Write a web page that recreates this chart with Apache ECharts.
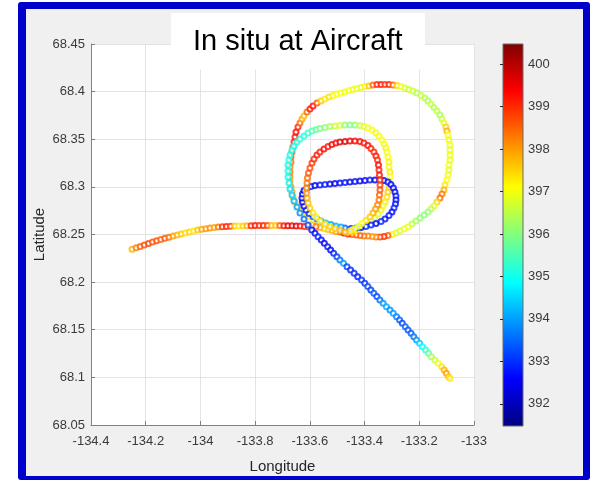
<!DOCTYPE html>
<html>
<head>
<meta charset="utf-8">
<script src="https://cdn.jsdelivr.net/npm/echarts@6/dist/echarts.min.js"></script>
<style>
  html, body { margin: 0; padding: 0; background: #ffffff; }
  #chart { width: 591px; height: 482px; }
</style>
</head>
<body>
<div id="chart"></div>
<script>
// Flight track samples: [longitude, latitude, CO2 (ppm)]

// Inbound leg from the west
const westLeg = [
  [-134.250, 68.2345, 397.8], [-134.235, 68.2360, 398.2], [-134.220, 68.2375, 398.5],
  [-134.205, 68.2390, 398.7], [-134.190, 68.2405, 398.8], [-134.175, 68.2420, 398.6],
  [-134.160, 68.2435, 398.7], [-134.145, 68.2447, 398.5], [-134.130, 68.2460, 398.6],
  [-134.115, 68.2472, 398.4], [-134.100, 68.2484, 398.0], [-134.085, 68.2495, 397.8],
  [-134.070, 68.2506, 397.6], [-134.055, 68.2517, 397.4], [-134.040, 68.2527, 397.5],
  [-134.025, 68.2537, 397.3], [-134.010, 68.2546, 397.6], [-133.995, 68.2554, 397.9],
  [-133.980, 68.2561, 398.0], [-133.965, 68.2567, 398.1], [-133.950, 68.2573, 397.9],
  [-133.935, 68.2578, 398.3], [-133.920, 68.2582, 398.9], [-133.905, 68.2585, 399.1],
  [-133.890, 68.2587, 398.9], [-133.875, 68.2588, 397.6], [-133.860, 68.2589, 397.3],
  [-133.845, 68.2590, 397.5], [-133.830, 68.2591, 397.8], [-133.815, 68.2592, 399.0],
  [-133.800, 68.2594, 399.2], [-133.785, 68.2594, 399.0], [-133.770, 68.2594, 399.1],
  [-133.755, 68.2594, 398.8], [-133.740, 68.2594, 397.7], [-133.725, 68.2594, 397.6],
  [-133.710, 68.2594, 398.5], [-133.695, 68.2593, 399.2], [-133.680, 68.2592, 399.6],
  [-133.665, 68.2591, 399.4], [-133.650, 68.2590, 399.7], [-133.635, 68.2588, 399.3],
  [-133.620, 68.2585, 399.1], [-133.605, 68.2580, 398.8]
];

// Wide outer circle
const outerLoop = [
  [-133.5886, 68.2600, 397.6], [-133.6032, 68.2642, 397.3], [-133.6178, 68.2684, 397.1],
  [-133.6324, 68.2736, 397.2], [-133.6434, 68.2789, 397.4], [-133.6544, 68.2841, 397.6],
  [-133.6617, 68.2893, 397.8], [-133.6653, 68.2946, 398.0], [-133.6690, 68.2998, 398.1],
  [-133.6727, 68.3051, 398.0], [-133.6727, 68.3103, 398.2], [-133.6727, 68.3156, 398.3],
  [-133.6727, 68.3208, 398.2], [-133.6690, 68.3261, 398.4], [-133.6690, 68.3313, 398.6],
  [-133.6653, 68.3366, 398.7], [-133.6617, 68.3419, 398.9], [-133.6580, 68.3471, 399.1],
  [-133.6544, 68.3524, 399.2], [-133.6507, 68.3576, 399.3], [-133.6434, 68.3629, 399.1],
  [-133.6361, 68.3671, 398.5], [-133.6288, 68.3712, 397.9], [-133.6215, 68.3744, 397.7],
  [-133.6105, 68.3786, 398.4], [-133.5996, 68.3817, 399.2], [-133.5886, 68.3849, 399.3],
  [-133.5740, 68.3880, 398.6], [-133.5593, 68.3901, 397.6], [-133.5447, 68.3922, 397.3],
  [-133.5301, 68.3943, 397.4], [-133.5155, 68.3959, 397.2], [-133.5009, 68.3975, 397.0],
  [-133.4862, 68.3985, 397.1], [-133.4716, 68.3996, 396.9], [-133.4570, 68.4012, 397.0],
  [-133.4424, 68.4022, 396.9], [-133.4278, 68.4033, 397.0], [-133.4131, 68.4043, 396.8],
  [-133.3985, 68.4054, 397.2], [-133.3839, 68.4059, 397.6], [-133.3693, 68.4069, 398.4],
  [-133.3547, 68.4075, 399.0], [-133.3400, 68.4075, 399.2], [-133.3254, 68.4075, 398.9],
  [-133.3108, 68.4075, 399.1], [-133.2962, 68.4069, 398.5], [-133.2816, 68.4064, 397.5],
  [-133.2670, 68.4054, 397.0], [-133.2523, 68.4038, 396.8], [-133.2377, 68.4022, 396.6],
  [-133.2231, 68.4006, 396.7], [-133.2085, 68.3985, 396.4], [-133.1938, 68.3959, 396.6],
  [-133.1792, 68.3933, 396.5], [-133.1683, 68.3901, 396.3], [-133.1573, 68.3870, 396.6],
  [-133.1463, 68.3833, 396.4], [-133.1354, 68.3796, 396.5], [-133.1244, 68.3755, 396.3],
  [-133.1171, 68.3712, 396.6], [-133.1098, 68.3670, 396.8], [-133.1025, 68.3629, 397.5],
  [-133.0988, 68.3586, 397.8], [-133.0952, 68.3545, 397.1], [-133.0915, 68.3492, 396.9],
  [-133.0879, 68.3440, 397.0], [-133.0879, 68.3387, 396.8], [-133.0879, 68.3335, 397.0],
  [-133.0879, 68.3282, 396.9], [-133.0915, 68.3230, 397.0], [-133.0915, 68.3177, 396.8],
  [-133.0952, 68.3125, 397.0], [-133.0988, 68.3072, 397.1], [-133.1061, 68.3020, 397.3],
  [-133.1098, 68.2967, 397.8], [-133.1171, 68.2925, 398.3], [-133.1244, 68.2883, 398.4],
  [-133.1354, 68.2841, 397.5], [-133.1463, 68.2799, 396.8], [-133.1573, 68.2767, 396.5],
  [-133.1683, 68.2736, 396.2], [-133.1829, 68.2705, 396.0], [-133.1975, 68.2673, 396.1],
  [-133.2121, 68.2642, 396.3], [-133.2267, 68.2610, 396.5], [-133.2414, 68.2579, 396.9],
  [-133.2560, 68.2558, 397.0], [-133.2706, 68.2537, 396.8], [-133.2852, 68.2516, 396.7],
  [-133.2998, 68.2500, 397.2], [-133.3145, 68.2489, 398.5], [-133.3291, 68.2479, 399.0],
  [-133.3437, 68.2474, 398.8], [-133.3583, 68.2474, 398.3], [-133.3729, 68.2479, 398.0],
  [-133.3876, 68.2484, 398.2], [-133.4022, 68.2484, 398.3], [-133.4168, 68.2489, 398.5],
  [-133.4314, 68.2495, 398.6], [-133.4460, 68.2500, 398.4], [-133.4607, 68.2505, 399.3],
  [-133.4753, 68.2516, 399.7], [-133.4899, 68.2526, 398.7], [-133.5045, 68.2531, 398.0],
  [-133.5191, 68.2542, 397.8], [-133.5338, 68.2552, 397.7], [-133.5484, 68.2563, 397.5],
  [-133.5630, 68.2573, 397.8], [-133.5776, 68.2584, 398.3]
];

// Middle loop (cyan on the west side, yellow on the east side)
const middleLoop = [
  [-133.6069, 68.2600, 393.2], [-133.6215, 68.2663, 393.5], [-133.6361, 68.2726, 393.8],
  [-133.6471, 68.2789, 394.0], [-133.6580, 68.2851, 394.2], [-133.6653, 68.2915, 394.4],
  [-133.6727, 68.2977, 394.6], [-133.6763, 68.3041, 394.8], [-133.6800, 68.3103, 394.9],
  [-133.6800, 68.3166, 395.0], [-133.6800, 68.3230, 394.9], [-133.6763, 68.3282, 395.0],
  [-133.6727, 68.3335, 395.1], [-133.6653, 68.3387, 395.0], [-133.6580, 68.3429, 395.1],
  [-133.6471, 68.3471, 395.0], [-133.6361, 68.3502, 395.2], [-133.6215, 68.3534, 395.1],
  [-133.6069, 68.3565, 395.3], [-133.5922, 68.3586, 395.5], [-133.5776, 68.3602, 395.7],
  [-133.5630, 68.3613, 395.9], [-133.5447, 68.3623, 396.1], [-133.5265, 68.3634, 396.3],
  [-133.5082, 68.3639, 396.6], [-133.4899, 68.3644, 396.8], [-133.4716, 68.3650, 396.2],
  [-133.4534, 68.3650, 395.9], [-133.4351, 68.3650, 396.1], [-133.4168, 68.3644, 396.6],
  [-133.4022, 68.3634, 396.9], [-133.3876, 68.3618, 397.0], [-133.3729, 68.3597, 397.1],
  [-133.3583, 68.3566, 396.9], [-133.3474, 68.3534, 397.0], [-133.3364, 68.3492, 397.1],
  [-133.3291, 68.3450, 397.0], [-133.3218, 68.3408, 397.2], [-133.3181, 68.3366, 397.0],
  [-133.3145, 68.3313, 397.1], [-133.3108, 68.3261, 397.2], [-133.3108, 68.3208, 397.0],
  [-133.3072, 68.3156, 397.3], [-133.3072, 68.3103, 397.1], [-133.3108, 68.3051, 397.3],
  [-133.3108, 68.2998, 397.5], [-133.3145, 68.2946, 397.6], [-133.3181, 68.2893, 397.4],
  [-133.3254, 68.2841, 397.3], [-133.3327, 68.2799, 397.0], [-133.3400, 68.2757, 397.2],
  [-133.3510, 68.2715, 396.9], [-133.3620, 68.2673, 396.7], [-133.3766, 68.2642, 396.8],
  [-133.3912, 68.2610, 396.6], [-133.4058, 68.2579, 397.0], [-133.4205, 68.2558, 397.2],
  [-133.4351, 68.2537, 397.4], [-133.4497, 68.2526, 397.6], [-133.4643, 68.2516, 398.0]
];

// Low-level blue loop
const blueLoop = [
  [-133.4716, 68.2568, 393.5], [-133.4862, 68.2579, 394.0], [-133.5045, 68.2589, 394.2],
  [-133.5228, 68.2605, 394.0], [-133.5411, 68.2621, 394.3], [-133.5593, 68.2642, 393.9],
  [-133.5740, 68.2663, 393.6], [-133.5886, 68.2689, 393.3], [-133.6032, 68.2720, 393.0],
  [-133.6142, 68.2757, 392.7], [-133.6215, 68.2799, 392.6], [-133.6270, 68.2841, 392.5],
  [-133.6288, 68.2883, 392.6], [-133.6270, 68.2925, 392.7], [-133.6215, 68.2962, 392.5],
  [-133.6105, 68.2988, 392.6], [-133.5959, 68.3004, 392.8], [-133.5813, 68.3014, 392.4],
  [-133.5630, 68.3020, 392.7], [-133.5447, 68.3025, 392.9], [-133.5265, 68.3030, 392.5],
  [-133.5082, 68.3035, 392.3], [-133.4899, 68.3041, 392.6], [-133.4716, 68.3046, 392.8],
  [-133.4534, 68.3051, 392.5], [-133.4351, 68.3056, 392.7], [-133.4168, 68.3062, 392.4],
  [-133.3985, 68.3067, 392.6], [-133.3803, 68.3072, 392.8], [-133.3620, 68.3072, 392.5],
  [-133.3437, 68.3072, 392.7], [-133.3291, 68.3067, 392.6], [-133.3145, 68.3051, 392.8],
  [-133.3035, 68.3025, 392.5], [-133.2944, 68.2988, 392.7], [-133.2889, 68.2946, 392.6],
  [-133.2852, 68.2904, 392.8], [-133.2852, 68.2862, 392.6], [-133.2870, 68.2820, 392.7],
  [-133.2925, 68.2778, 392.9], [-133.2998, 68.2736, 392.6], [-133.3108, 68.2699, 392.8],
  [-133.3254, 68.2662, 392.7], [-133.3400, 68.2636, 392.9], [-133.3583, 68.2615, 392.6],
  [-133.3766, 68.2600, 392.8], [-133.3949, 68.2584, 393.0], [-133.4131, 68.2573, 392.7],
  [-133.4314, 68.2568, 393.1], [-133.4497, 68.2563, 393.0]
];

// Tight red loop
const redLoop = [
  [-133.4899, 68.2547, 397.7], [-133.5082, 68.2563, 397.6], [-133.5265, 68.2584, 397.5],
  [-133.5447, 68.2610, 397.4], [-133.5630, 68.2642, 397.3], [-133.5776, 68.2684, 397.2],
  [-133.5886, 68.2726, 397.3], [-133.5996, 68.2778, 397.5], [-133.6069, 68.2831, 397.6],
  [-133.6105, 68.2883, 397.8], [-133.6123, 68.2935, 398.0], [-133.6123, 68.2988, 398.1],
  [-133.6105, 68.3041, 398.3], [-133.6087, 68.3093, 398.4], [-133.6050, 68.3146, 398.6],
  [-133.5996, 68.3198, 398.7], [-133.5922, 68.3251, 398.9], [-133.5849, 68.3292, 399.0],
  [-133.5740, 68.3335, 399.2], [-133.5630, 68.3366, 399.1], [-133.5484, 68.3397, 399.3],
  [-133.5338, 68.3424, 399.2], [-133.5191, 68.3445, 399.4], [-133.5045, 68.3461, 399.3],
  [-133.4899, 68.3471, 399.6], [-133.4716, 68.3476, 399.7], [-133.4534, 68.3482, 399.5],
  [-133.4351, 68.3482, 399.4], [-133.4168, 68.3476, 399.3], [-133.4022, 68.3461, 399.2],
  [-133.3876, 68.3434, 399.3], [-133.3766, 68.3403, 399.1], [-133.3656, 68.3366, 399.0],
  [-133.3583, 68.3324, 399.2], [-133.3528, 68.3282, 399.0], [-133.3492, 68.3230, 399.3],
  [-133.3474, 68.3177, 399.1], [-133.3456, 68.3125, 399.2], [-133.3437, 68.3072, 399.0],
  [-133.3437, 68.3020, 398.8], [-133.3437, 68.2967, 398.7], [-133.3456, 68.2915, 398.5],
  [-133.3474, 68.2862, 398.3], [-133.3528, 68.2810, 398.2], [-133.3601, 68.2767, 398.0],
  [-133.3693, 68.2726, 397.8], [-133.3803, 68.2684, 397.6], [-133.3949, 68.2647, 397.4],
  [-133.4095, 68.2615, 397.1], [-133.4241, 68.2584, 396.9], [-133.4387, 68.2558, 397.0],
  [-133.4534, 68.2537, 397.3], [-133.4716, 68.2526, 397.8]
];

// Outbound leg to the south-east
const diagonalLeg = [
  [-133.593, 68.2547, 392.8], [-133.581, 68.2512, 392.6], [-133.570, 68.2477, 392.9],
  [-133.558, 68.2442, 392.7], [-133.547, 68.2407, 392.5], [-133.535, 68.2372, 392.8],
  [-133.524, 68.2337, 392.6], [-133.513, 68.2302, 392.9], [-133.501, 68.2267, 393.1],
  [-133.490, 68.2232, 393.6], [-133.477, 68.2197, 394.0], [-133.464, 68.2162, 393.2],
  [-133.451, 68.2127, 392.9], [-133.438, 68.2092, 393.0], [-133.425, 68.2057, 392.8],
  [-133.411, 68.2022, 393.1], [-133.399, 68.1988, 393.0], [-133.388, 68.1953, 393.3],
  [-133.377, 68.1918, 393.1], [-133.366, 68.1883, 393.4], [-133.355, 68.1848, 393.2],
  [-133.344, 68.1812, 393.5], [-133.332, 68.1777, 393.9], [-133.320, 68.1742, 394.1],
  [-133.307, 68.1707, 393.8], [-133.295, 68.1672, 394.0], [-133.283, 68.1637, 393.7],
  [-133.272, 68.1602, 393.4], [-133.262, 68.1567, 393.2], [-133.251, 68.1532, 393.5],
  [-133.241, 68.1497, 393.3], [-133.230, 68.1462, 393.4], [-133.220, 68.1427, 393.6],
  [-133.210, 68.1392, 393.9], [-133.199, 68.1357, 394.4], [-133.188, 68.1322, 394.9],
  [-133.177, 68.1287, 395.2], [-133.166, 68.1252, 395.7], [-133.156, 68.1217, 396.2],
  [-133.143, 68.1182, 396.6], [-133.131, 68.1147, 397.0], [-133.118, 68.1112, 397.3],
  [-133.109, 68.1077, 397.8], [-133.101, 68.1042, 398.0], [-133.093, 68.1007, 397.6],
  [-133.088, 68.0990, 397.3]
];

// Colour scale range and colorbar tick values
const co2Min = 391.48;
const co2Max = 400.47;
const co2Ticks = [392, 393, 394, 395, 396, 397, 398, 399, 400];

// Jet colormap, evenly spaced stops from low to high
const jetColors = ['#000080', '#0000ff', '#0080ff', '#00ffff', '#80ff80',
                   '#ffff00', '#ff8000', '#ff0000', '#800000'];

const trackPoints = [].concat(westLeg, outerLoop, middleLoop, blueLoop, redLoop, diagonalLeg);

const chart = echarts.init(document.getElementById('chart'), null, { renderer: 'canvas' });

const fontFamily = '"Liberation Sans", Arial, Helvetica, sans-serif';
const axisGray = '#808080';
const labelColor = '#3a3a3a';

const barGradient = {
  type: 'linear', x: 0, y: 1, x2: 0, y2: 0,
  colorStops: jetColors.map((c, i) => ({ offset: i / (jetColors.length - 1), color: c }))
};

chart.setOption({
  animation: false,
  backgroundColor: '#ffffff',
  textStyle: { fontFamily: fontFamily },
  title: {
    text: 'In situ at Aircraft',
    left: 193,
    top: 27,
    padding: 0,
    z: 12,
    textStyle: { fontSize: 29, fontWeight: 'normal', color: '#000000', fontFamily: fontFamily }
  },
  graphic: [
    { type: 'rect', z: -20, silent: true,
      shape: { x: 18, y: 2, width: 572, height: 478, r: 3 },
      style: { fill: '#0000cc' } },
    { type: 'rect', z: -19, silent: true,
      shape: { x: 26, y: 9, width: 557, height: 467 },
      style: { fill: '#f0f0f0' } },
    { type: 'rect', z: 11, silent: true,
      shape: { x: 171, y: 13, width: 254, height: 57 },
      style: { fill: '#ffffff' } }
  ],
  grid: [
    { left: 91, top: 44, width: 383, height: 381, show: true,
      backgroundColor: '#ffffff', borderWidth: 0 },
    { left: 503, top: 44, width: 20, height: 382, show: true,
      backgroundColor: barGradient, borderColor: '#6b6b6b', borderWidth: 1 }
  ],
  xAxis: [
    {
      gridIndex: 0, type: 'value', min: -134.4, max: -133, interval: 0.2,
      name: 'Longitude', nameLocation: 'middle', nameGap: 34, nameMoveOverlap: false,
      nameTextStyle: { fontSize: 15, color: '#262626' },
      axisLine: { show: true, onZero: false, lineStyle: { color: axisGray, width: 1 } },
      axisTick: { show: true, inside: true, length: 4, lineStyle: { color: axisGray } },
      axisLabel: { fontSize: 13, color: labelColor, margin: 10 },
      splitLine: { show: true, lineStyle: { color: '#e3e3e3', width: 1 } }
    },
    { gridIndex: 1, type: 'value', min: 0, max: 1, show: false }
  ],
  yAxis: [
    {
      gridIndex: 0, type: 'value', min: 68.05, max: 68.45, interval: 0.05,
      name: 'Latitude', nameLocation: 'middle', nameGap: 44, nameRotate: 90,
      nameMoveOverlap: false,
      nameTextStyle: { fontSize: 15, color: '#262626' },
      axisLine: { show: true, onZero: false, lineStyle: { color: axisGray, width: 1 } },
      axisTick: { show: true, inside: true, length: 4, lineStyle: { color: axisGray } },
      axisLabel: { fontSize: 13, color: labelColor, margin: 6 },
      splitLine: { show: true, lineStyle: { color: '#e3e3e3', width: 1 } }
    },
    {
      gridIndex: 1, type: 'value', position: 'right', min: co2Min, max: co2Max,
      axisLine: { show: false },
      axisTick: { show: true, inside: true, length: 3, customValues: co2Ticks,
                  lineStyle: { color: '#262626' } },
      axisLabel: { fontSize: 13, color: labelColor, margin: 5, customValues: co2Ticks },
      splitLine: { show: false }
    }
  ],
  visualMap: {
    show: false, type: 'continuous', seriesIndex: 0, dimension: 2,
    min: co2Min, max: co2Max,
    inRange: { color: jetColors }
  },
  series: [
    {
      type: 'scatter',
      xAxisIndex: 0, yAxisIndex: 0,
      symbol: 'emptyCircle',
      symbolSize: 5,
      silent: true,
      itemStyle: { opacity: 0.8 },
      data: trackPoints
    }
  ]
});
</script>
</body>
</html>
